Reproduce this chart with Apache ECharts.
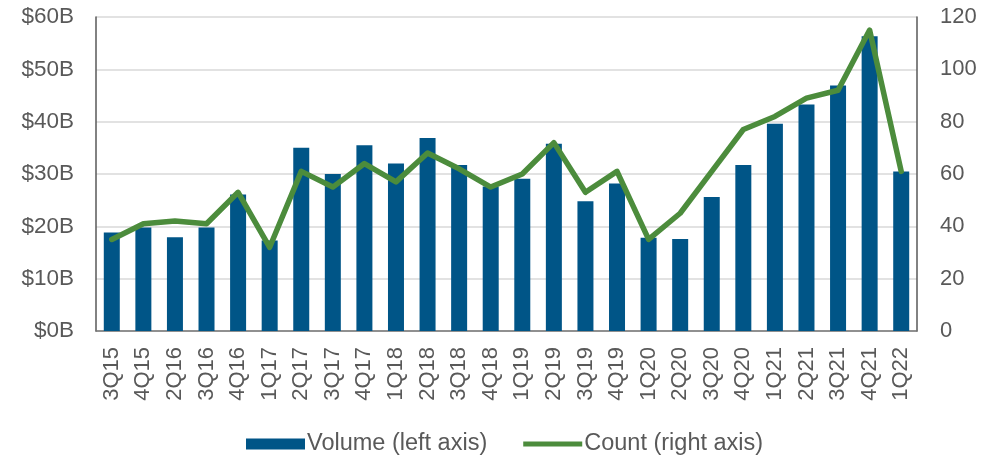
<!DOCTYPE html>
<html>
<head>
<meta charset="utf-8">
<script src="https://cdn.jsdelivr.net/npm/echarts@6/dist/echarts.min.js"></script>
<style>html,body{margin:0;padding:0;background:#fff}#c{width:993px;height:458px}</style>
</head>
<body>
<div id="c"></div>
<script>
const categories = ['3Q15','4Q15','2Q16','3Q16','4Q16','1Q17','2Q17','3Q17','4Q17','1Q18','2Q18','3Q18','4Q18','1Q19','2Q19','3Q19','4Q19','1Q20','2Q20','3Q20','4Q20','1Q21','2Q21','3Q21','4Q21','1Q22'];
const volume = [18.8, 19.8, 17.9, 19.8, 26.1, 17.3, 35.0, 30.0, 35.5, 32.0, 36.9, 31.7, 27.6, 29.1, 35.8, 24.8, 28.2, 17.8, 17.6, 25.6, 31.7, 39.6, 43.3, 46.9, 56.3, 30.5];
const count = [35, 41, 42, 41, 53, 32, 61, 55, 64, 57, 68, 62, 55, 60, 72, 53, 61, 35, 45, 61, 77, 82, 89, 92, 115, 61];
const leftTicks = [0, 60, 10];
const rightTicks = [0, 120, 20];

const font = 'Liberation Sans, Arial, sans-serif';
const txt = '#595959';
const chart = echarts.init(document.getElementById('c'), null, {renderer: 'canvas'});
chart.setOption({
  animation: false,
  grid: {left: 96, right: 76, top: 17, bottom: 127, containLabel: false},
  legend: {
    left: 241, top: 427,
    itemWidth: 59, itemHeight: 11, itemGap: 36,
    textStyle: {fontFamily: font, fontSize: 23.5, color: txt, padding: [0,0,0,-3]},
    data: [
      {name: 'Volume (left axis)', icon: 'rect'},
      {name: 'Count (right axis)', icon: 'path://M0,0 L60,0 L60,5 L0,5 Z'}
    ]
  },
  xAxis: {
    type: 'category', data: categories,
    axisLine: {lineStyle: {color: '#767676', width: 1.5}},
    axisTick: {show: false},
    axisLabel: {rotate: 90, fontFamily: font, fontSize: 22, color: txt, margin: 16, interval: 0}
  },
  yAxis: [
    {
      type: 'value', min: leftTicks[0], max: leftTicks[1], interval: leftTicks[2],
      axisLine: {show: true, lineStyle: {color: '#595959', width: 1.5}},
      axisTick: {show: false},
      splitLine: {lineStyle: {color: '#d9d9d9', width: 1.5}},
      axisLabel: {fontFamily: font, fontSize: 22.5, color: txt, margin: 22, formatter: v => '$' + v + 'B'}
    },
    {
      type: 'value', min: rightTicks[0], max: rightTicks[1], interval: rightTicks[2], position: 'right',
      axisLine: {show: true, lineStyle: {color: '#595959', width: 1.5}},
      axisTick: {show: false},
      splitLine: {show: false},
      axisLabel: {fontFamily: font, fontSize: 22, color: txt, margin: 23}
    }
  ],
  series: [
    {
      name: 'Volume (left axis)', type: 'bar', data: volume, yAxisIndex: 0,
      barWidth: 16, itemStyle: {color: '#005587'}
    },
    {
      name: 'Count (right axis)', type: 'line', data: count, yAxisIndex: 1,
      symbol: 'none', lineStyle: {color: '#4c8c3c', width: 5.5, join: 'round', cap: 'round'},
      itemStyle: {color: '#4c8c3c'}
    }
  ]
});
</script>
</body>
</html>
